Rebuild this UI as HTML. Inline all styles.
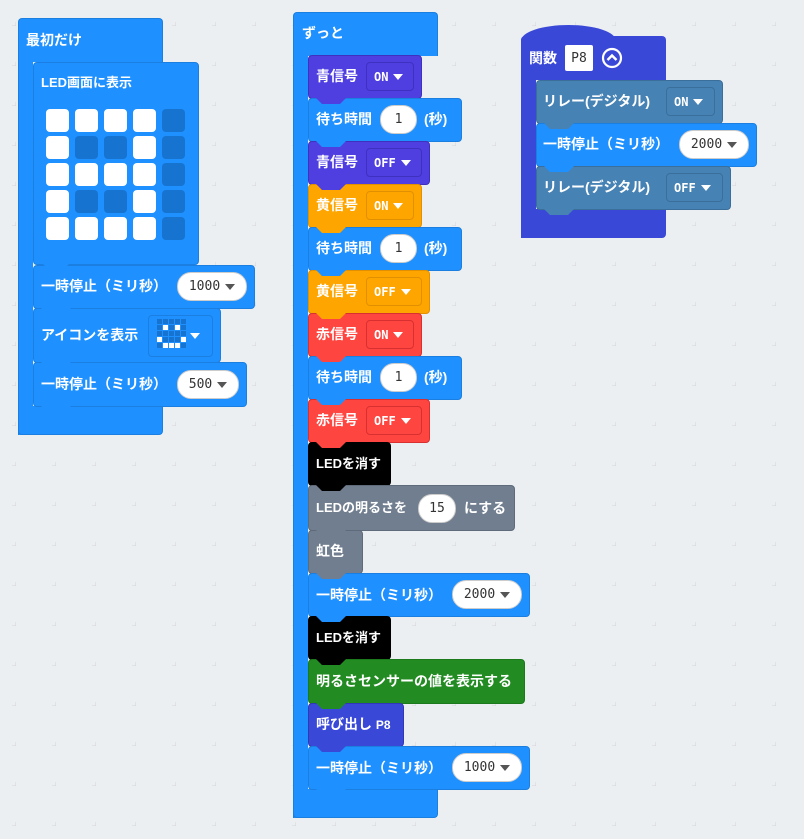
<!DOCTYPE html>
<html><head><meta charset="utf-8">
<style>
body{margin:0;width:804px;height:839px;overflow:hidden;background:#eceff1;position:relative;font-family:"Liberation Sans","Noto Sans CJK JP",sans-serif;}
.b{position:absolute;box-sizing:border-box;border-radius:4px;}
.t{position:absolute;color:#fff;font-weight:bold;font-size:14px;line-height:18px;white-space:nowrap;}
.dd{position:absolute;box-sizing:border-box;border-radius:4px;color:#fff;font:bold 12px "DejaVu Sans Mono","Liberation Mono",monospace;padding-left:7px;white-space:nowrap;display:flex;align-items:center;}
.pill{position:absolute;box-sizing:border-box;background:#fff;border-radius:14px;color:#333;font:13px "DejaVu Sans Mono","Liberation Mono",monospace;border:1px solid #ccc;white-space:nowrap;display:flex;align-items:center;justify-content:center;}
.tri{display:inline-block;width:0;height:0;border-left:5px solid transparent;border-right:5px solid transparent;border-top:6px solid currentColor;margin-left:5px;}
.c{position:absolute;width:23px;height:23px;border-radius:4px;}
.w{background:#fff}.d{background:#1773d0}
.tab{position:absolute;width:30px;height:6px;clip-path:polygon(0 0,100% 0,80% 100%,20% 100%);}
</style></head><body>
<svg width="804" height="839" style="position:absolute;left:0;top:0">
<defs><pattern id="g" x="-24" y="-14" width="40" height="40" patternUnits="userSpaceOnUse"><path d="M40 36v8M36 40h8" stroke="#d3d6d9" stroke-width="1"/></pattern></defs>
<rect width="804" height="839" fill="url(#g)"/>
</svg>

<div class="b" style="left:18px;top:18px;width:145px;height:44px;background:#1e90ff;border:1px solid #1a7fe0;border-bottom:none;border-radius:4px 4px 0 0"></div>
<div class="b" style="left:18px;top:40px;width:15px;height:395px;background:#1e90ff;border-left:1px solid #1a7fe0;border-radius:0"></div>
<div class="b" style="left:18px;top:406px;width:145px;height:29px;background:#1e90ff;border:1px solid #1a7fe0;border-top:none;border-radius:0 0 4px 4px"></div>
<div class="t" style="left:26px;top:31px">最初だけ</div>

<div class="b" style="left:33px;top:62px;width:166px;height:203px;background:#1e90ff;border:1px solid #1a7fe0"></div>
<div class="t" style="left:41px;top:74px;font-size:13px">LED画面に表示</div>
<div class="c w" style="left:46px;top:109px"></div><div class="c w" style="left:75px;top:109px"></div><div class="c w" style="left:104px;top:109px"></div><div class="c w" style="left:133px;top:109px"></div><div class="c d" style="left:162px;top:109px"></div>
<div class="c w" style="left:46px;top:136px"></div><div class="c d" style="left:75px;top:136px"></div><div class="c d" style="left:104px;top:136px"></div><div class="c w" style="left:133px;top:136px"></div><div class="c d" style="left:162px;top:136px"></div>
<div class="c w" style="left:46px;top:163px"></div><div class="c w" style="left:75px;top:163px"></div><div class="c w" style="left:104px;top:163px"></div><div class="c w" style="left:133px;top:163px"></div><div class="c d" style="left:162px;top:163px"></div>
<div class="c w" style="left:46px;top:190px"></div><div class="c d" style="left:75px;top:190px"></div><div class="c d" style="left:104px;top:190px"></div><div class="c w" style="left:133px;top:190px"></div><div class="c d" style="left:162px;top:190px"></div>
<div class="c w" style="left:46px;top:217px"></div><div class="c w" style="left:75px;top:217px"></div><div class="c w" style="left:104px;top:217px"></div><div class="c w" style="left:133px;top:217px"></div><div class="c d" style="left:162px;top:217px"></div>

<div class="b" style="left:33px;top:265px;width:222px;height:44px;background:#1e90ff;border:1px solid #1a7fe0"></div>
<div class="t" style="left:41px;top:277px">一時停止（ミリ秒）</div>
<div class="pill" style="left:177px;top:272px;width:70px;height:29px">1000<span class="tri" style="color:#555"></span></div>

<div class="b" style="left:33px;top:308px;width:188px;height:55px;background:#1e90ff;border:1px solid #1a7fe0"></div>
<div class="t" style="left:41px;top:326px">アイコンを表示</div>
<div class="b" style="left:148px;top:315px;width:65px;height:42px;border:1px solid #1a7fe0;background:#1e90ff"></div>
<svg style="position:absolute;left:157px;top:319px" width="30" height="30">
<g fill="#1773d0">
<rect x="0" y="0" width="5" height="5"/><rect x="6" y="0" width="5" height="5"/><rect x="12" y="0" width="5" height="5"/><rect x="18" y="0" width="5" height="5"/><rect x="24" y="0" width="5" height="5"/>
<rect x="0" y="6" width="5" height="5"/><rect x="12" y="6" width="5" height="5"/><rect x="24" y="6" width="5" height="5"/>
<rect x="0" y="12" width="5" height="5"/><rect x="6" y="12" width="5" height="5"/><rect x="12" y="12" width="5" height="5"/><rect x="18" y="12" width="5" height="5"/><rect x="24" y="12" width="5" height="5"/>
<rect x="6" y="18" width="5" height="5"/><rect x="12" y="18" width="5" height="5"/><rect x="18" y="18" width="5" height="5"/>
<rect x="0" y="24" width="5" height="5"/><rect x="24" y="24" width="5" height="5"/></g>
<g fill="#fff"><rect x="6" y="6" width="5" height="5"/><rect x="18" y="6" width="5" height="5"/><rect x="0" y="18" width="5" height="5"/><rect x="24" y="18" width="5" height="5"/><rect x="6" y="24" width="5" height="5"/><rect x="12" y="24" width="5" height="5"/><rect x="18" y="24" width="5" height="5"/></g>
</svg>
<span class="tri" style="position:absolute;left:190px;top:333px;color:#fff;margin:0"></span>

<div class="b" style="left:33px;top:362px;width:214px;height:45px;background:#1e90ff;border:1px solid #1a7fe0"></div>
<div class="t" style="left:41px;top:375px">一時停止（ミリ秒）</div>
<div class="pill" style="left:177px;top:370px;width:62px;height:29px">500<span class="tri" style="color:#555"></span></div>

<div class="b" style="left:293px;top:12px;width:145px;height:44px;background:#1e90ff;border:1px solid #1a7fe0;border-bottom:none;border-radius:4px 4px 0 0"></div>
<div class="b" style="left:293px;top:40px;width:15px;height:778px;background:#1e90ff;border-left:1px solid #1a7fe0;border-radius:0"></div>
<div class="b" style="left:293px;top:789px;width:145px;height:29px;background:#1e90ff;border:1px solid #1a7fe0;border-top:none;border-radius:0 0 4px 4px"></div>
<div class="t" style="left:302px;top:24px">ずっと</div>

<div class="b" style="left:308px;top:55px;width:114px;height:44px;background:#4f3fe0;border:1px solid #3f30c0"></div>
<div class="t" style="left:316px;top:67px">青信号</div>
<div class="dd" style="left:366px;top:62px;width:48px;height:29px;border:1px solid #3f30c0">ON<span class="tri"></span></div>

<div class="b" style="left:308px;top:98px;width:154px;height:44px;background:#1e90ff;border:1px solid #1a7fe0"></div>
<div class="t" style="left:316px;top:110px">待ち時間</div>
<div class="pill" style="left:380px;top:105px;width:37px;height:29px">1</div>
<div class="t" style="left:424px;top:110px">(秒)</div>

<div class="b" style="left:308px;top:141px;width:122px;height:44px;background:#4f3fe0;border:1px solid #3f30c0"></div>
<div class="t" style="left:316px;top:153px">青信号</div>
<div class="dd" style="left:366px;top:148px;width:56px;height:29px;border:1px solid #3f30c0">OFF<span class="tri"></span></div>

<div class="b" style="left:308px;top:184px;width:114px;height:44px;background:#ffa500;border:1px solid #e09000"></div>
<div class="t" style="left:316px;top:196px">黄信号</div>
<div class="dd" style="left:366px;top:191px;width:48px;height:29px;border:1px solid #e09000">ON<span class="tri"></span></div>

<div class="b" style="left:308px;top:227px;width:154px;height:44px;background:#1e90ff;border:1px solid #1a7fe0"></div>
<div class="t" style="left:316px;top:239px">待ち時間</div>
<div class="pill" style="left:380px;top:234px;width:37px;height:29px">1</div>
<div class="t" style="left:424px;top:239px">(秒)</div>

<div class="b" style="left:308px;top:270px;width:122px;height:44px;background:#ffa500;border:1px solid #e09000"></div>
<div class="t" style="left:316px;top:282px">黄信号</div>
<div class="dd" style="left:366px;top:277px;width:56px;height:29px;border:1px solid #e09000">OFF<span class="tri"></span></div>

<div class="b" style="left:308px;top:313px;width:114px;height:44px;background:#ff4540;border:1px solid #d83030"></div>
<div class="t" style="left:316px;top:325px">赤信号</div>
<div class="dd" style="left:366px;top:320px;width:48px;height:29px;border:1px solid #d83030">ON<span class="tri"></span></div>

<div class="b" style="left:308px;top:356px;width:154px;height:44px;background:#1e90ff;border:1px solid #1a7fe0"></div>
<div class="t" style="left:316px;top:368px">待ち時間</div>
<div class="pill" style="left:380px;top:363px;width:37px;height:29px">1</div>
<div class="t" style="left:424px;top:368px">(秒)</div>

<div class="b" style="left:308px;top:399px;width:122px;height:44px;background:#ff4540;border:1px solid #d83030"></div>
<div class="t" style="left:316px;top:411px">赤信号</div>
<div class="dd" style="left:366px;top:406px;width:56px;height:29px;border:1px solid #d83030">OFF<span class="tri"></span></div>

<div class="b" style="left:308px;top:442px;width:83px;height:44px;background:#000"></div>
<div class="t" style="left:316px;top:455px;font-size:13px">LEDを消す</div>

<div class="b" style="left:308px;top:485px;width:207px;height:46px;background:#717e8f;border:1px solid #5f6b7a"></div>
<div class="t" style="left:316px;top:499px;font-size:13px">LEDの明るさを</div>
<div class="pill" style="left:418px;top:494px;width:38px;height:29px">15</div>
<div class="t" style="left:464px;top:499px">にする</div>

<div class="b" style="left:308px;top:530px;width:55px;height:44px;background:#717e8f;border:1px solid #5f6b7a"></div>
<div class="t" style="left:316px;top:542px">虹色</div>

<div class="b" style="left:308px;top:573px;width:222px;height:44px;background:#1e90ff;border:1px solid #1a7fe0"></div>
<div class="t" style="left:316px;top:586px">一時停止（ミリ秒）</div>
<div class="pill" style="left:452px;top:580px;width:70px;height:29px">2000<span class="tri" style="color:#555"></span></div>

<div class="b" style="left:308px;top:616px;width:83px;height:44px;background:#000"></div>
<div class="t" style="left:316px;top:629px;font-size:13px">LEDを消す</div>

<div class="b" style="left:308px;top:659px;width:217px;height:45px;background:#228b22;border:1px solid #1c7a1c"></div>
<div class="t" style="left:316px;top:672px">明るさセンサーの値を表示する</div>

<div class="b" style="left:308px;top:703px;width:96px;height:44px;background:#3a48d8;border:1px solid #3038b8"></div>
<div class="t" style="left:316px;top:715px">呼び出し <span style="font-size:12px">P8</span></div>

<div class="b" style="left:308px;top:746px;width:222px;height:44px;background:#1e90ff;border:1px solid #1a7fe0"></div>
<div class="t" style="left:316px;top:759px">一時停止（ミリ秒）</div>
<div class="pill" style="left:452px;top:753px;width:70px;height:29px">1000<span class="tri" style="color:#555"></span></div>

<div class="b" style="left:521px;top:25px;width:95px;height:40px;background:#3a48d8;border-radius:48px 48px 0 0/16px 16px 0 0"></div>
<div class="b" style="left:521px;top:36px;width:145px;height:44px;background:#3a48d8;border-radius:4px 4px 0 0"></div>
<div class="b" style="left:521px;top:60px;width:15px;height:178px;background:#3a48d8;border-radius:0"></div>
<div class="b" style="left:521px;top:209px;width:145px;height:29px;background:#3a48d8;border-radius:0 0 4px 4px"></div>
<div class="t" style="left:529px;top:49px">関数</div>
<div class="b" style="left:565px;top:45px;width:28px;height:26px;background:#fff;border-radius:2px;color:#333;font:13px 'DejaVu Sans Mono',monospace;display:flex;align-items:center;justify-content:center">P8</div>
<svg style="position:absolute;left:601px;top:47px" width="22" height="22"><circle cx="11" cy="11" r="9" fill="none" stroke="#fff" stroke-width="2.2"/><path d="M6.5 13 L11 8.5 L15.5 13" fill="none" stroke="#fff" stroke-width="2.4"/></svg>

<div class="b" style="left:536px;top:80px;width:187px;height:44px;background:#4682b4;border:1px solid #3a6f9c"></div>
<div class="t" style="left:543px;top:92px">リレー(デジタル)</div>
<div class="dd" style="left:666px;top:87px;width:49px;height:29px;border:1px solid #3a6f9c">ON<span class="tri"></span></div>

<div class="b" style="left:536px;top:123px;width:221px;height:44px;background:#1e90ff;border:1px solid #1a7fe0"></div>
<div class="t" style="left:543px;top:135px">一時停止（ミリ秒）</div>
<div class="pill" style="left:679px;top:130px;width:70px;height:29px">2000<span class="tri" style="color:#555"></span></div>

<div class="b" style="left:536px;top:166px;width:195px;height:44px;background:#4682b4;border:1px solid #3a6f9c"></div>
<div class="t" style="left:543px;top:178px">リレー(デジタル)</div>
<div class="dd" style="left:666px;top:173px;width:57px;height:29px;border:1px solid #3a6f9c">OFF<span class="tri"></span></div>

<div class="tab" style="left:41px;top:262px;background:#1e90ff"></div>
<div class="tab" style="left:41px;top:308px;background:#1e90ff"></div>
<div class="tab" style="left:41px;top:362px;background:#1e90ff"></div>
<div class="tab" style="left:41px;top:406px;background:#1e90ff"></div>
<div class="tab" style="left:316px;top:98px;background:#4f3fe0"></div>
<div class="tab" style="left:316px;top:141px;background:#1e90ff"></div>
<div class="tab" style="left:316px;top:184px;background:#4f3fe0"></div>
<div class="tab" style="left:316px;top:227px;background:#ffa500"></div>
<div class="tab" style="left:316px;top:270px;background:#1e90ff"></div>
<div class="tab" style="left:316px;top:313px;background:#ffa500"></div>
<div class="tab" style="left:316px;top:356px;background:#ff4540"></div>
<div class="tab" style="left:316px;top:399px;background:#1e90ff"></div>
<div class="tab" style="left:316px;top:442px;background:#ff4540"></div>
<div class="tab" style="left:316px;top:485px;background:#000"></div>
<div class="tab" style="left:316px;top:530px;background:#717e8f"></div>
<div class="tab" style="left:316px;top:573px;background:#717e8f"></div>
<div class="tab" style="left:316px;top:616px;background:#1e90ff"></div>
<div class="tab" style="left:316px;top:659px;background:#000"></div>
<div class="tab" style="left:316px;top:703px;background:#228b22"></div>
<div class="tab" style="left:316px;top:746px;background:#3a48d8"></div>
<div class="tab" style="left:316px;top:789px;background:#1e90ff"></div>
<div class="tab" style="left:544px;top:123px;background:#4682b4"></div>
<div class="tab" style="left:544px;top:166px;background:#1e90ff"></div>
<div class="tab" style="left:544px;top:209px;background:#4682b4"></div>
</body></html>
